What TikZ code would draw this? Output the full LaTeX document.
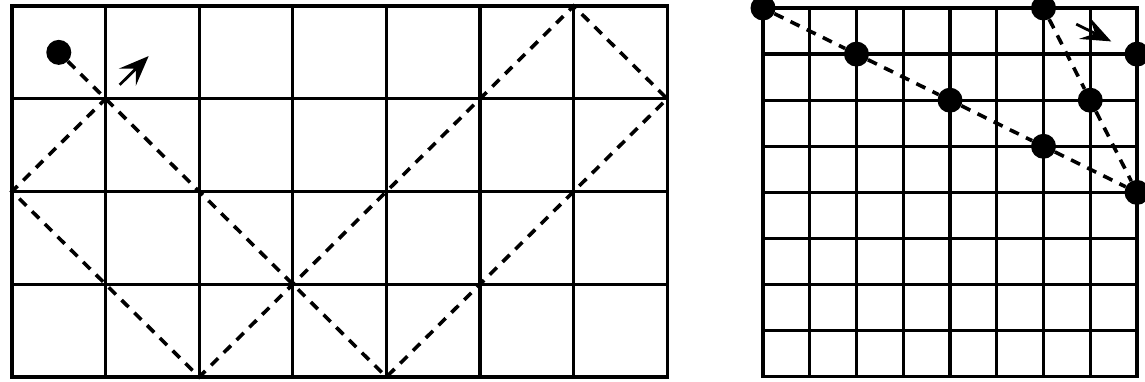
\documentclass[tikz,border=0pt]{standalone}
\usetikzlibrary{arrows.meta}
\begin{document}
\begin{tikzpicture}[x=1pt,y=-1pt,
  gridline/.style={line width=3.2pt, line cap=rect},
  pathline/.style={line width=3.6pt, dash pattern=on 10pt off 8pt},
  dot/.style={circle, fill=black, inner sep=0pt, minimum size=25pt},
  tipline/.style={line width=2.8pt, -{Stealth[length=30pt,width=24pt,inset=12pt]}}]
\useasboundingbox (0,0) rectangle (1145,382);
% left board
\begin{scope}[shift={(12pt,-6pt)}, x=93.6pt, y=-92.75pt]
  \foreach \i in {0,...,7} \draw[gridline] (\i,0) -- (\i,4);
  \foreach \j in {0,...,4} \draw[gridline] (0,\j) -- (7,\j);
  \node[dot] (s) at (0.5,0.5) {};
  \coordinate (p11) at (1,1);
  \coordinate (p44) at (4,4);
  \coordinate (p71) at (7,1);
  \coordinate (p60) at (6,0);
  \coordinate (p24) at (2,4);
  \coordinate (p02) at (0,2);
  \coordinate (la) at (1.15,0.85);
  \coordinate (lb) at (1.46,0.54);
  \draw[pathline] (s) -- (p11) -- (p44) -- (p71) -- (p60) -- (p24) -- (p02) -- (p11);
  \draw[tipline] (la) -- (lb);
\end{scope}
% right board
\begin{scope}[shift={(763pt,-8pt)}, x=46.75pt, y=-46.1pt]
  \foreach \i in {0,...,8} \draw[gridline] (\i,0) -- (\i,8);
  \foreach \j in {0,...,8} \draw[gridline] (0,\j) -- (8,\j);
  \node[dot] (r00) at (0,0) {};
  \node[dot] (r21) at (2,1) {};
  \node[dot] (r42) at (4,2) {};
  \node[dot] (r63) at (6,3) {};
  \node[dot] (r84) at (8,4) {};
  \node[dot] (r60) at (6,0) {};
  \node[dot] (r72) at (7,2) {};
  \node[dot] (r81) at (8,1) {};
  \coordinate (ra) at (6.7,0.35);
  \coordinate (rb) at (7.45,0.725);
  \draw[pathline] (r00) -- (r21) -- (r42) -- (r63) -- (r84);
  \draw[pathline] (r60) -- (r72) -- (r84);
  \draw[tipline] (ra) -- (rb);
\end{scope}
\end{tikzpicture}
\end{document}
